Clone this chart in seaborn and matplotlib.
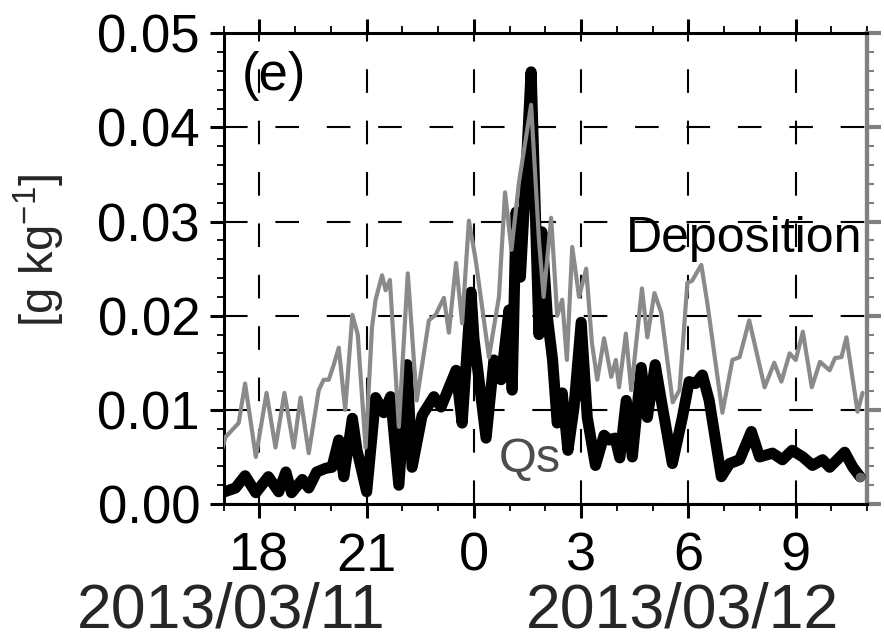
import numpy as np
import pandas as pd
import matplotlib
matplotlib.use("Agg")
import matplotlib.pyplot as plt
from matplotlib.ticker import MultipleLocator, FixedLocator, FixedFormatter
import seaborn as sns

# hours counted from 2013/03/11 00:00
dep_hours = [16.95, 17.05, 17.42, 17.6, 17.9, 18.2, 18.45, 18.7, 18.96, 19.15,
             19.38, 19.66, 19.8, 19.94, 20.08, 20.22, 20.4, 20.6, 20.75, 20.97,
             21.15, 21.25, 21.43, 21.53, 21.65, 21.9, 22.15, 22.4, 22.74, 22.93,
             23.16, 23.3, 23.5, 23.67, 23.86, 24.05, 24.42, 24.7, 24.87, 25.05,
             25.26, 25.6, 25.82, 25.95, 26.16, 26.33, 26.47, 26.6, 26.75, 26.94,
             27.14, 27.3, 27.45, 27.64, 27.84, 27.97, 28.06, 28.25, 28.4, 28.7,
             28.85, 29.05, 29.24, 29.56, 29.75, 29.97, 30.1, 30.36, 30.53, 30.95,
             31.23, 31.43, 31.7, 32.13, 32.4, 32.6, 32.83, 33.0, 33.2, 33.45,
             33.68, 33.95, 34.1, 34.28, 34.42, 34.73, 34.87]
dep_vals = [0.0057, 0.0071, 0.0086, 0.0128, 0.0050, 0.0118, 0.0060, 0.0118, 0.0060, 0.0113,
            0.0054, 0.0121, 0.0132, 0.0132, 0.0148, 0.0166, 0.0100, 0.0201, 0.0180, 0.0060,
            0.0188, 0.0217, 0.0243, 0.0227, 0.0238, 0.0082, 0.0245, 0.0110, 0.0195, 0.0201,
            0.0219, 0.0182, 0.0256, 0.0192, 0.0301, 0.0259, 0.0156, 0.0220, 0.0331, 0.0270,
            0.0342, 0.0424, 0.0280, 0.0220, 0.0304, 0.0200, 0.0217, 0.0153, 0.0273, 0.0220,
            0.0250, 0.0171, 0.0132, 0.0176, 0.0135, 0.0153, 0.0124, 0.0181, 0.0121, 0.0229,
            0.0177, 0.0224, 0.0203, 0.0108, 0.0121, 0.0235, 0.0237, 0.0254, 0.0213, 0.0097,
            0.0153, 0.0156, 0.0195, 0.0124, 0.0150, 0.0130, 0.0160, 0.0153, 0.0183, 0.0124,
            0.0151, 0.0142, 0.0155, 0.0156, 0.0177, 0.0098, 0.0118]

qs_hours = [16.95, 17.33, 17.6, 17.9, 18.25, 18.54, 18.74, 18.9, 19.2, 19.38,
            19.6, 19.86, 20.03, 20.22, 20.36, 20.6, 20.73, 21.0, 21.25, 21.48,
            21.67, 21.9, 22.13, 22.27, 22.55, 22.88, 23.08, 23.5, 23.67, 23.92,
            24.0, 24.34, 24.56, 24.76, 24.98, 25.07, 25.18, 25.3, 25.42, 25.6,
            25.82, 25.9, 26.05, 26.2, 26.33, 26.47, 26.63, 26.8, 27.0, 27.17,
            27.4, 27.64, 27.78, 27.95, 28.08, 28.26, 28.43, 28.68, 28.85, 29.07,
            29.24, 29.55, 29.83, 30.02, 30.2, 30.39, 30.58, 30.92, 31.15, 31.43,
            31.76, 31.99, 32.35, 32.63, 32.9, 33.2, 33.47, 33.75, 33.95, 34.37,
            34.6, 34.8]
qs_vals = [0.0012, 0.0017, 0.0030, 0.0012, 0.0029, 0.0013, 0.0034, 0.0012, 0.0026, 0.0017,
           0.0034, 0.0038, 0.0039, 0.0068, 0.0029, 0.0091, 0.0057, 0.0013, 0.0113, 0.0097,
           0.0114, 0.0020, 0.0148, 0.0039, 0.0094, 0.0114, 0.0103, 0.0142, 0.0086, 0.0225,
           0.0176, 0.0070, 0.0153, 0.0132, 0.0206, 0.0121, 0.0310, 0.0241, 0.0326, 0.0459,
           0.0180, 0.0289, 0.0200, 0.0153, 0.0086, 0.0118, 0.0057, 0.0103, 0.0193, 0.0092,
           0.0041, 0.0073, 0.0068, 0.0070, 0.0049, 0.0110, 0.0050, 0.0145, 0.0092, 0.0148,
           0.0110, 0.0043, 0.0092, 0.0130, 0.0128, 0.0137, 0.0110, 0.0029, 0.0043, 0.0047,
           0.0077, 0.0050, 0.0054, 0.0047, 0.0057, 0.0050, 0.0041, 0.0047, 0.0039, 0.0055,
           0.0039, 0.0029]

major_hours = [18, 21, 24, 27, 30, 33]
hour_labels = ["18", "21", "0", "3", "6", "9"]
date_labels = ["2013/03/11", "2013/03/12"]

sns.set_theme(style="white")
plt.rcParams["font.family"] = ["Liberation Sans", "DejaVu Sans"]
plt.rcParams["mathtext.fontset"] = "custom"
plt.rcParams["mathtext.rm"] = "Liberation Sans"
plt.rcParams["mathtext.default"] = "regular"
plt.rcParams["lines.scale_dashes"] = False

fig = plt.figure(figsize=(8.84, 6.4), dpi=100)
ax = fig.add_axes([0.253, 0.2125, 0.728, 0.7355])

qs_df = pd.DataFrame({"hour": qs_hours, "val": qs_vals})
dep_df = pd.DataFrame({"hour": dep_hours, "val": dep_vals})

sns.lineplot(data=qs_df, x="hour", y="val", color="black", linewidth=8,
             sort=False, ax=ax, solid_joinstyle="round", solid_capstyle="round", zorder=3)
sns.lineplot(data=dep_df, x="hour", y="val", color="#8a8a8a", linewidth=3,
             sort=False, ax=ax, solid_joinstyle="round", zorder=4)
ax.plot(qs_hours[-1], qs_vals[-1], "o", color="#666666", ms=6, zorder=5)

ax.set_xlim(17, 35)
ax.set_ylim(0, 0.05)
ax.set_xlabel("")
ax.set_ylabel("")

ax.xaxis.set_major_locator(FixedLocator(major_hours))
ax.xaxis.set_major_formatter(FixedFormatter(hour_labels))
ax.xaxis.set_minor_locator(MultipleLocator(1))
ax.yaxis.set_major_locator(MultipleLocator(0.01))
ax.yaxis.set_minor_locator(MultipleLocator(0.002))
ax.yaxis.set_major_formatter(plt.FormatStrFormatter("%.2f"))

ax.grid(True, which="major", color="black", linewidth=1.5,
        linestyle=(0, (17, 20)))

for side in ["left", "top", "bottom"]:
    ax.spines[side].set_color("black")
    ax.spines[side].set_linewidth(2.2)
ax.spines["right"].set_color("#808080")
ax.spines["right"].set_linewidth(3)

ax.tick_params(axis="both", which="major", direction="out", length=10, width=2.2,
               colors="black", top=True, bottom=True, left=True, right=False)
ax.tick_params(axis="both", which="minor", direction="out", length=5, width=1.3,
               top=True, bottom=True, left=True, right=False, colors="black")
ax.tick_params(axis="x", which="major", pad=10, labelsize=39)
ax.tick_params(axis="y", which="major", pad=7, labelsize=38)
ax.tick_params(axis="x", labeltop=False)

# gray ticks on the right spine
rax = ax.secondary_yaxis("right")
rax.yaxis.set_major_locator(MultipleLocator(0.01))
rax.yaxis.set_minor_locator(MultipleLocator(0.002))
rax.tick_params(axis="y", which="major", direction="out", length=10, width=3,
                colors="#808080", labelright=False)
rax.tick_params(axis="y", which="minor", direction="out", length=5, width=1.5,
                colors="#808080")
rax.spines["right"].set_color("#808080")
rax.spines["right"].set_linewidth(3)

ax.text(18.4, 0.0455, "(e)", fontsize=38, ha="center", va="center", color="black")
ax.text(31.57, 0.0282, "Deposition", fontsize=36, ha="center", va="center",
        color="black", zorder=6)
ax.text(25.55, 0.0047, "Qs", fontsize=35, ha="center", va="center",
        color="#4d4d4d", zorder=6)

fig.text(0.262, 0.046, date_labels[0], fontsize=45, ha="center", va="center")
fig.text(0.7715, 0.046, date_labels[1], fontsize=45, ha="center", va="center")
fig.text(0.045, 0.609, "[g kg$^{-1}$]", fontsize=34, rotation=90,
         ha="center", va="center")

fig.savefig("out.png", dpi=100)
